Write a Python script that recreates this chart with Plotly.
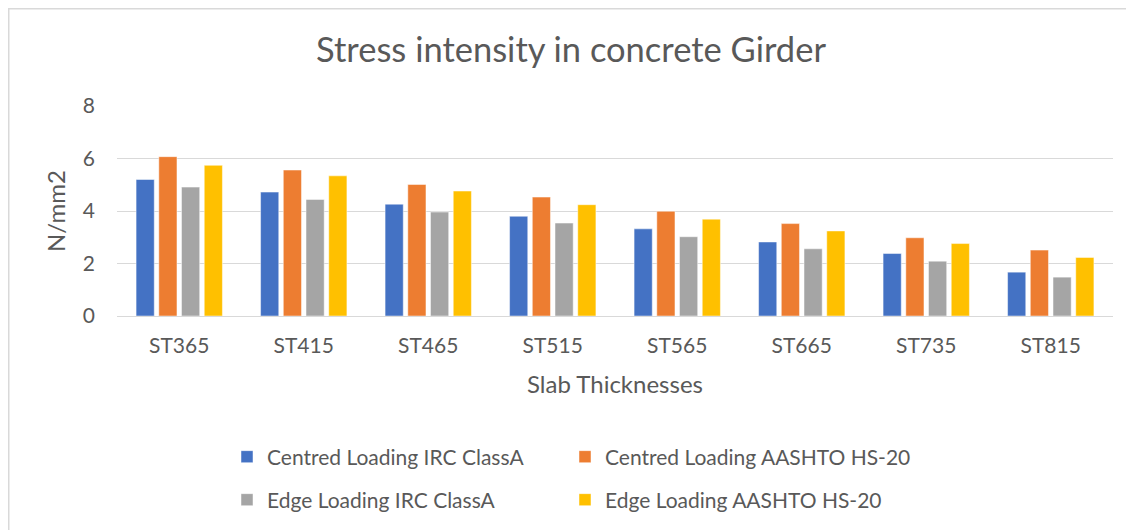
import plotly.graph_objects as go

categories = ["ST365", "ST415", "ST465", "ST515", "ST565", "ST665", "ST735", "ST815"]
centred_irc = [5.20, 4.72, 4.26, 3.80, 3.32, 2.82, 2.38, 1.67]
centred_aashto = [6.07, 5.56, 5.01, 4.53, 3.99, 3.52, 2.98, 2.51]
edge_irc = [4.91, 4.44, 3.96, 3.54, 3.02, 2.56, 2.09, 1.48]
edge_aashto = [5.74, 5.34, 4.76, 4.24, 3.69, 3.24, 2.76, 2.23]

series_names = ["Centred Loading IRC ClassA", "Centred Loading AASHTO HS-20",
                "Edge Loading IRC ClassA", "Edge Loading AASHTO HS-20"]
series_values = [centred_irc, centred_aashto, edge_irc, edge_aashto]
colors = ["#4472C4", "#ED7D31", "#A5A5A5", "#FFC000"]
legend_ids = ["legend", "legend2", "legend3", "legend4"]

# page body has an 8px margin; figure is sized/positioned to compensate
OFF = 8
W, H = 1134 - OFF, 530 - OFF
ML, MT = 117 - OFF, 106 - OFF
PW, PH = 996, 210
MR, MB = W - ML - PW, H - MT - PH

FONT = "Lato, Carlito, Calibri, sans-serif"
TXT = "#595959"

fig = go.Figure()
for name, vals, col, lg in zip(series_names, series_values, colors, legend_ids):
    fig.add_trace(go.Bar(
        x=categories, y=vals, name=name, legend=lg,
        marker=dict(color=col, line=dict(color="rgba(255,255,255,0.6)", width=0.8)),
    ))

legend_common = dict(
    orientation="h", xanchor="left", yanchor="middle",
    font=dict(family=FONT, size=21, color=TXT),
    bgcolor="rgba(0,0,0,0)", itemwidth=30, tracegroupgap=0,
)

def px_x(screen_x):
    return (screen_x - OFF - ML) / PW

def px_y(screen_y):
    return -(screen_y - OFF - MT - PH) / PH

col_x = [227, 565]
row_y = [457, 500]
legend_pos = {
    "legend": (col_x[0], row_y[0]),
    "legend2": (col_x[1], row_y[0]),
    "legend3": (col_x[0], row_y[1]),
    "legend4": (col_x[1], row_y[1]),
}
legend_layout = {k: dict(x=px_x(sx), y=px_y(sy), **legend_common) for k, (sx, sy) in legend_pos.items()}

fig.update_layout(
    width=W, height=H,
    margin=dict(l=ML, r=MR, t=MT, b=MB, autoexpand=False),
    paper_bgcolor="white", plot_bgcolor="white",
    barmode="group", bargap=0.27, bargroupgap=0.2,
    title=dict(text="Stress intensity in concrete Girder", x=0.5, xanchor="center",
               y=1 - (50 - OFF) / H, yanchor="middle",
               font=dict(family=FONT, size=34.5, color=TXT)),
    font=dict(family=FONT, color=TXT),
    xaxis=dict(
        showgrid=False, showline=False, zeroline=False, ticks="",
        ticklabelstandoff=15,
        tickfont=dict(family=FONT, size=21, color=TXT),
        title=dict(text="Slab Thicknesses", font=dict(family=FONT, size=24, color=TXT), standoff=20),
    ),
    yaxis=dict(
        range=[0, 8], dtick=2, showgrid=True, gridcolor="#D9D9D9", gridwidth=1.3,
        zeroline=True, zerolinecolor="#D9D9D9", zerolinewidth=1.3,
        showline=False, ticks="", ticklabelstandoff=21,
        tickfont=dict(family=FONT, size=21, color=TXT),
        title=dict(text="N/mm2", font=dict(family=FONT, size=24, color=TXT), standoff=10),
    ),
    showlegend=True,
    **legend_layout,
)

# chart outer border (left and top edges visible)
fig.add_shape(type="rect", xref="paper", yref="paper",
              x0=(0.75 - ML) / PW, x1=(W + 20 - ML) / PW,
              y0=-(H + 20 - MT - PH) / PH, y1=(H - 0.75 - MB) / PH,
              line=dict(color="#D9D9D9", width=1.5), fillcolor="rgba(0,0,0,0)", layer="below")

fig.write_html("out.html")
